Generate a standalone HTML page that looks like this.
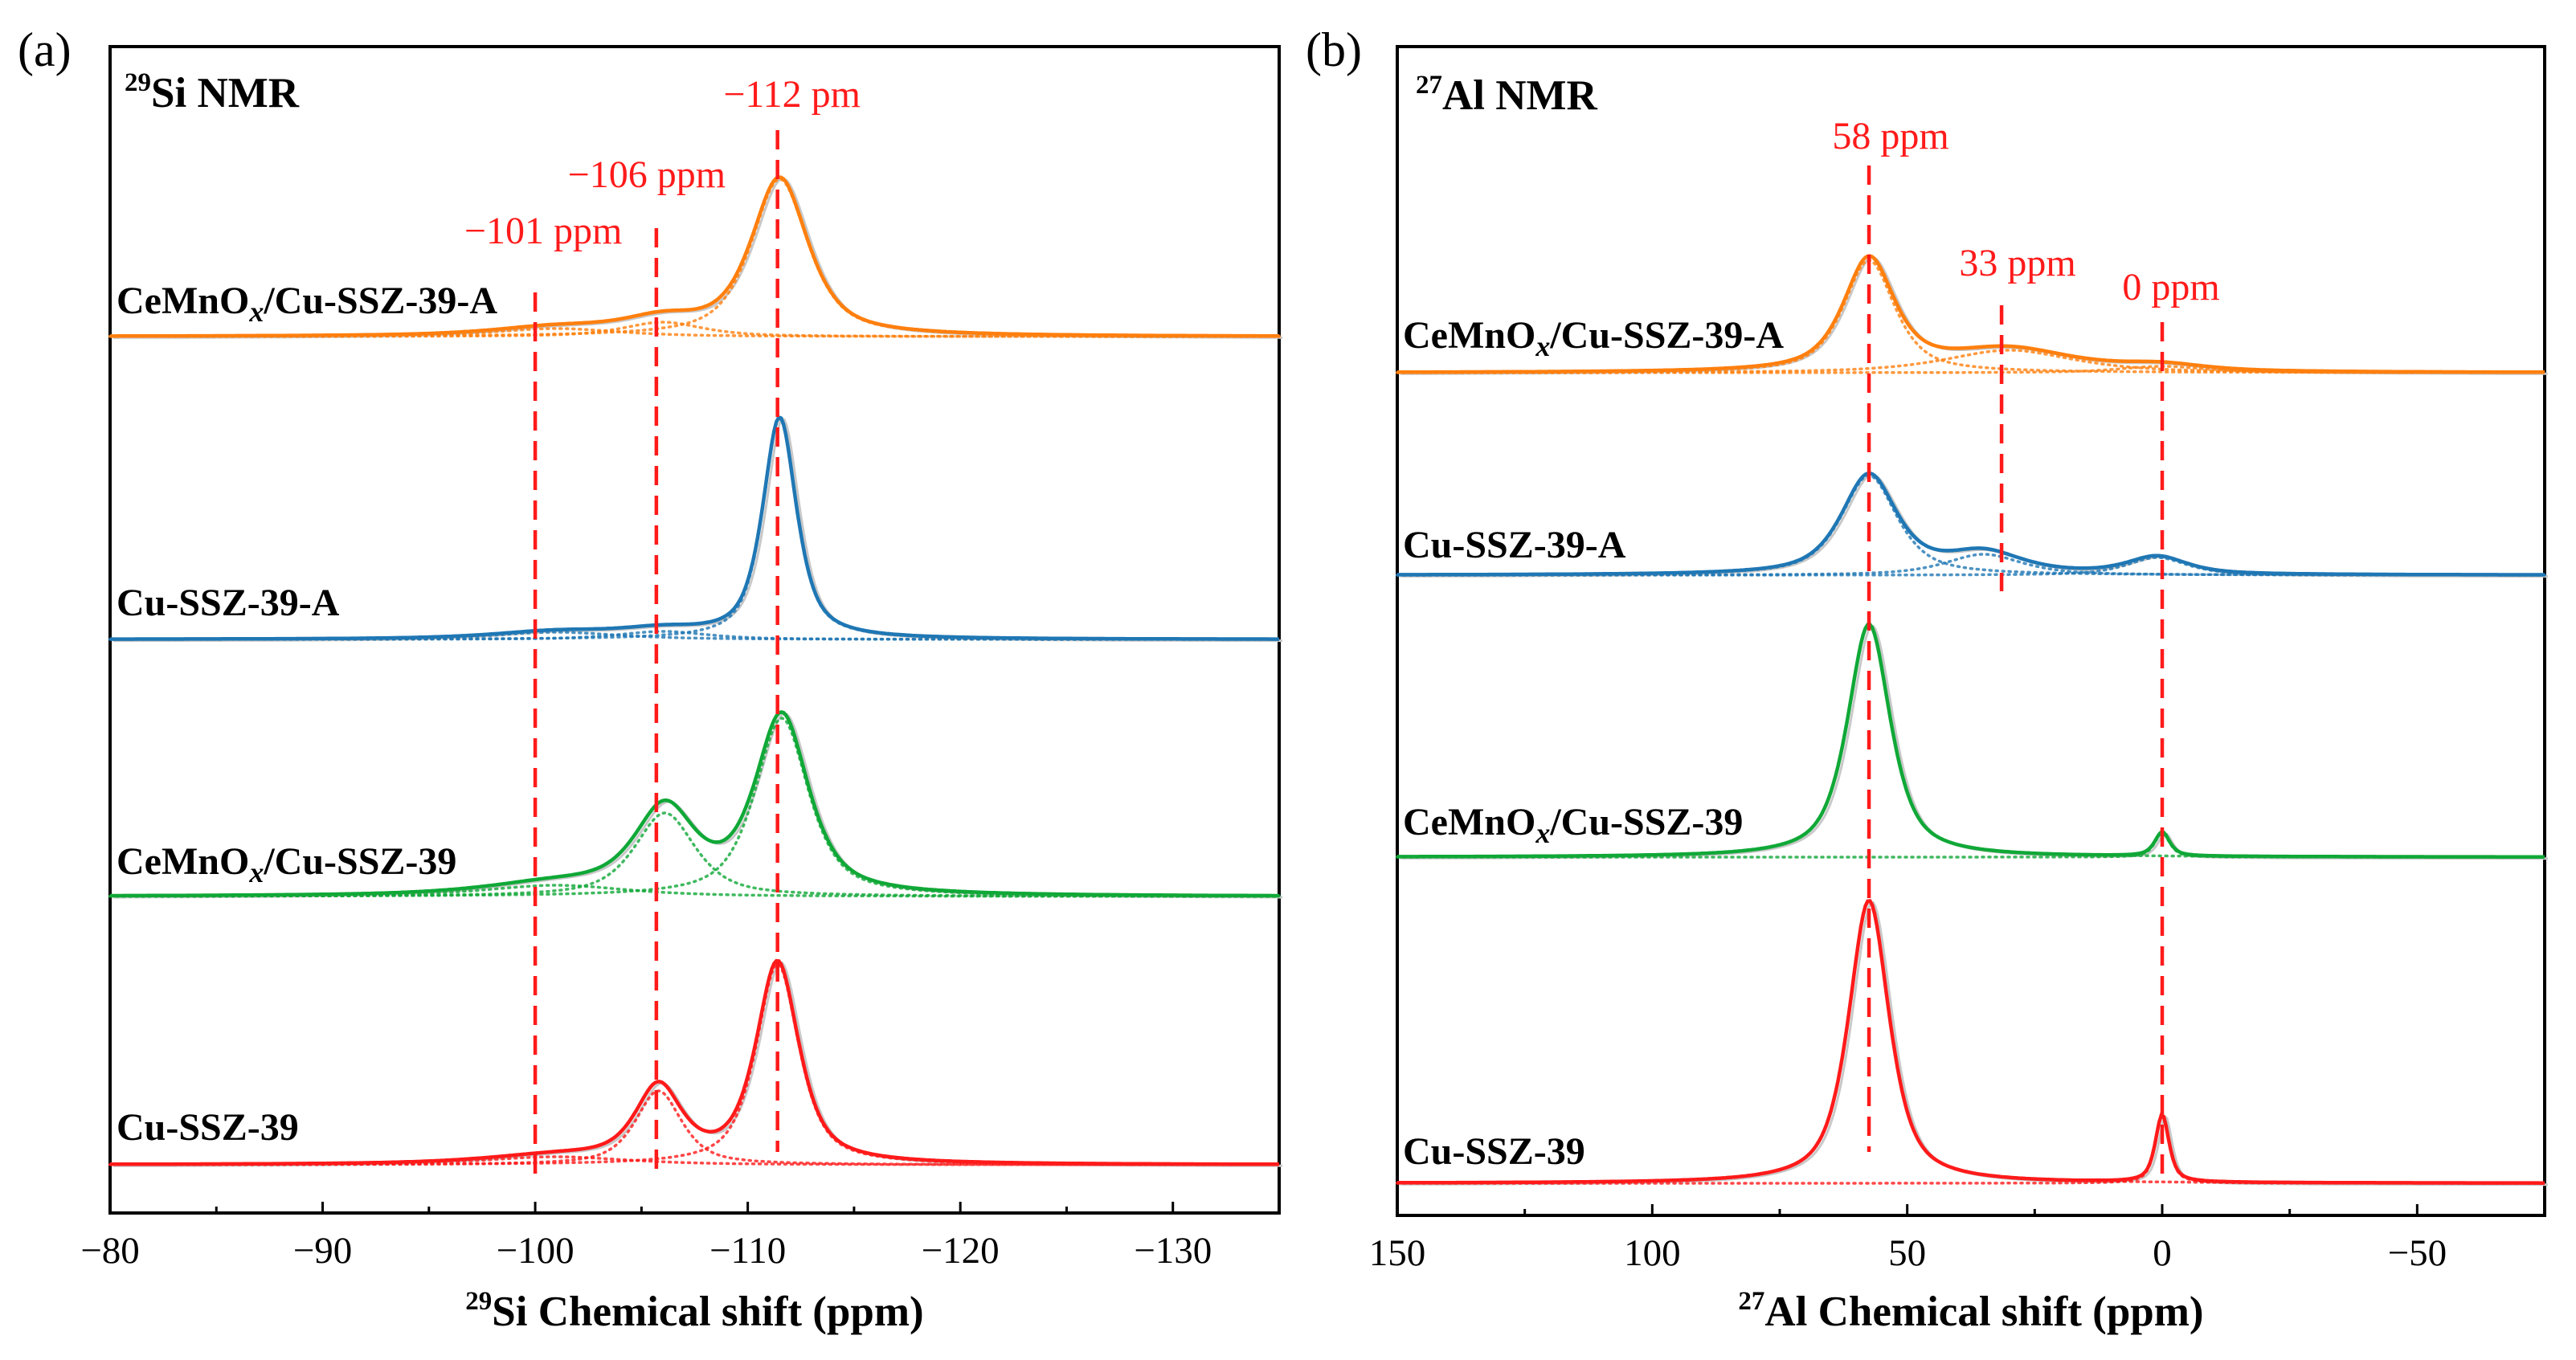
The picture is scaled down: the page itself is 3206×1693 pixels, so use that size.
<!DOCTYPE html>
<html><head><meta charset="utf-8">
<style>
html,body{margin:0;padding:0;background:#fff;}
svg{display:block;font-family:"Liberation Serif",serif;}
</style></head>
<body>
<svg id="chart" width="3206" height="1693" viewBox="0 0 3206 1693" xmlns="http://www.w3.org/2000/svg">
<g id="pa"></g>
<g id="pb"></g>
</svg>
<script>
// ---- Panel (a) 29Si data ----
const siTicks = [-80, -90, -100, -110, -120, -130];
const siSamples = ["CeMnOx/Cu-SSZ-39-A", "Cu-SSZ-39-A", "CeMnOx/Cu-SSZ-39", "Cu-SSZ-39"];
const siColors = ["#ff7f0e", "#1f77b4", "#10a837", "#ff1a1a"];
// peak components per sample: [center ppm, amplitude (px), fwhm ppm]
const siPeaks = [
  [[-111.5, 196, 3.2], [-106, 18, 4.5], [-101, 10, 7]],
  [[-111.5, 275, 1.9], [-106, 10, 5], [-101, 9, 7]],
  [[-111.6, 222, 3.0], [-106.1, 104, 3.4], [-101, 14, 8]],
  [[-111.4, 250, 2.4], [-105.8, 92, 2.6], [-101, 10, 8]]
];
const siRefLines = [-100, -105.7, -111.4];
const siRefLabels = ["\u2212101 ppm", "\u2212106 ppm", "\u2212112 pm"];

// ---- Panel (b) 27Al data ----
const alTicks = [150, 100, 50, 0, -50];
const alSamples = ["CeMnOx/Cu-SSZ-39-A", "Cu-SSZ-39-A", "CeMnOx/Cu-SSZ-39", "Cu-SSZ-39"];
const alColors = ["#ff7f0e", "#1f77b4", "#10a837", "#ff1a1a"];
const alPeaks = [
  [[57.5, 140, 12], [30, 28, 30], [0, 8, 20]],
  [[57.5, 124, 13], [35, 26, 18], [1, 22, 14]],
  [[57.5, 290, 10], [0, 30, 3.5]],
  [[57.5, 352, 9.5], [0, 84, 3.2]]
];
const alRefLines = [57.5, 31.5, 0];
const alRefLabels = ["58 ppm", "33 ppm", "0 ppm"];

const NS = "http://www.w3.org/2000/svg";
function mk(parent, tag, attrs, text) {
  const e = document.createElementNS(NS, tag);
  for (const k in attrs) e.setAttribute(k, attrs[k]);
  if (text !== undefined) e.textContent = text;
  parent.appendChild(e);
  return e;
}
function pv(x, c, a, w) { // pseudo-Voigt
  const d = (x - c) / (w / 2);
  return a * (0.7 / (1 + d * d) + 0.3 * Math.exp(-Math.LN2 * d * d));
}

function panel(g, cfg) {
  const X = v => cfg.x0 + (v - cfg.d0) / (cfg.d1 - cfg.d0) * (cfg.x1 - cfg.x0);
  const fr = mk(g, "rect", {x: cfg.x0, y: cfg.y0, width: cfg.x1 - cfg.x0, height: cfg.y1 - cfg.y0, fill: "none", stroke: "#000", "stroke-width": 4});
  
  
  cfg.ticks.forEach((t, i) => {
    const tk = mk(g, "line", {x1: X(t), x2: X(t), y1: cfg.y1, y2: cfg.y1 - 14, stroke: "#000", "stroke-width": 3});
    
    
    const half = t + (cfg.ticks[1] - cfg.ticks[0]) / 2;
    const mt = mk(g, "line", {x1: X(half), x2: X(half), y1: cfg.y1, y2: cfg.y1 - 8, stroke: "#000", "stroke-width": 3});
    
    
    const lb = mk(g, "text", {x: X(t), y: cfg.y1 + 62, "text-anchor": "middle", "font-size": 47}, (t < 0 ? "\u2212" + (-t) : "" + t));
    
    
  });
  const at = mk(g, "text", {x: (cfg.x0 + cfg.x1) / 2, y: 1650, "text-anchor": "middle", "font-size": 53, "font-weight": "bold"});
  
  
  mk(at, "tspan", {"font-size": 33, dy: -20}, cfg.iso);
  mk(at, "tspan", {dy: 20}, cfg.nuc + " Chemical shift (ppm)");
  const pt = mk(g, "text", {x: cfg.tx, y: cfg.ty, "font-size": 53, "font-weight": "bold"});
  
  
  mk(pt, "tspan", {"font-size": 33, dy: -20}, cfg.iso);
  mk(pt, "tspan", {dy: 20}, cfg.nuc + " NMR");
  const pl = mk(g, "text", {x: cfg.lx, y: 82, "font-size": 60}, cfg.letter);
  
  
  cfg.samples.forEach((s, i) => {
    const base = cfg.bases[i], col = cfg.colors[i], pk = cfg.peaks[i];
    const sg = mk(g, "g", {});
    
    
    const N = 500;
    const pts = [], comp = pk.map(() => []);
    for (let k = 0; k <= N; k++) {
      const v = cfg.d0 + (cfg.d1 - cfg.d0) * k / N;
      let sum = 0;
      pk.forEach((p, j) => { const y = pv(v, p[0], p[1], p[2]); sum += y; comp[j].push(X(v).toFixed(1) + "," + (base - y).toFixed(1)); });
      pts.push(X(v).toFixed(1) + "," + (base - sum).toFixed(1));
    }
    const raw = mk(sg, "polyline", {points: pts.join(" "), fill: "none", stroke: "#c8c8c8", "stroke-width": 3, transform: "translate(4,2)"});
    
    
    comp.forEach(c => {
      const cl = mk(sg, "polyline", {points: c.join(" "), fill: "none", stroke: col, "stroke-width": 3.5, "stroke-dasharray": "2 6", "stroke-linecap": "round", opacity: 0.8});
      
      
    });
    const fl = mk(sg, "polyline", {points: pts.join(" "), fill: "none", stroke: col, "stroke-width": 4.5});
    
    
    const lt = mk(g, "text", {x: cfg.labx, y: cfg.laby[i], "font-size": 48, "font-weight": "bold"});
    
    
    if (s.indexOf("Ox") >= 0) {
      mk(lt, "tspan", {}, "CeMnO");
      mk(lt, "tspan", {"font-style": "italic", dy: 10, "font-size": 36}, "x");
      mk(lt, "tspan", {dy: -10}, s.slice(6));
    } else lt.textContent = s;
  });
  cfg.refs.forEach((r, i) => {
    const ln = mk(g, "line", {x1: X(r), x2: X(r), y1: cfg.refY[i][0], y2: cfg.refY[i][1], stroke: "#ff1a1a", "stroke-width": 4.5, "stroke-dasharray": "24 13"});
    
    
    const tl = mk(g, "text", {x: X(r) + cfg.refDx[i], y: cfg.refLY[i], "text-anchor": "middle", "font-size": 48, fill: "#ff1a1a"}, cfg.refLabels[i]);
    
    
  });
}

panel(document.getElementById("pa"), {
  x0: 137, x1: 1592, y0: 58, y1: 1510, d0: -80, d1: -135,
  ticks: siTicks, samples: siSamples, colors: siColors, peaks: siPeaks,
  bases: [419, 796, 1116, 1450], labx: 145, laby: [390, 766, 1088, 1419],
  refs: siRefLines, refLabels: siRefLabels,
  refY: [[364, 1462], [284, 1455], [162, 1434]],
  refLY: [303, 233, 133], refDx: [10, -12, 18],
  iso: "29", nuc: "Si", tx: 155, ty: 133, lx: 22, letter: "(a)"
});
panel(document.getElementById("pb"), {
  x0: 1739, x1: 3167, y0: 58, y1: 1513, d0: 150, d1: -75,
  ticks: alTicks, samples: alSamples, colors: alColors, peaks: alPeaks,
  bases: [464, 716, 1067, 1473], labx: 1746, laby: [433, 694, 1039, 1449],
  refs: alRefLines, refLabels: alRefLabels,
  refY: [[206, 1434], [380, 736], [401, 1466]],
  refLY: [185, 343, 373], refDx: [27, 20, 11],
  iso: "27", nuc: "Al", tx: 1762, ty: 136, lx: 1625, letter: "(b)"
});
</script>
</body></html>
